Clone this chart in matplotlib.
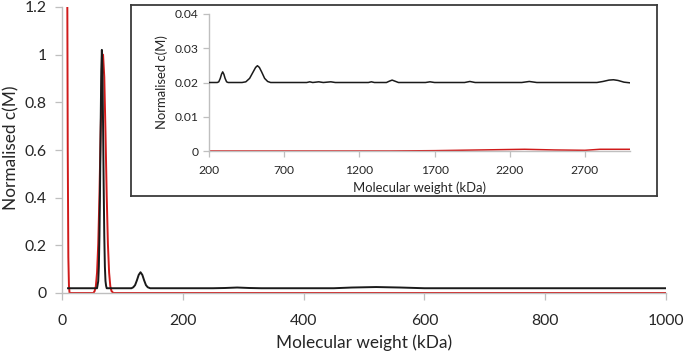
import matplotlib
matplotlib.use("Agg")
import matplotlib.pyplot as plt
from matplotlib.ticker import FuncFormatter

plt.rcParams['font.family'] = ['Lato', 'DejaVu Sans']

# ---------------- data ----------------
# main panel, black trace
main_black_x = [10, 58, 60, 61, 62, 63, 64, 65, 66, 67, 68, 69, 70, 71, 72, 73, 74,
                115, 118, 121, 124, 127, 130, 133, 136, 139, 142, 146,
                250, 270, 290, 310, 330, 450, 480, 520, 560, 600, 1000]
main_black_y = [0.02, 0.02, 0.05, 0.11, 0.24, 0.45, 0.70, 0.93, 1.02, 0.93, 0.70, 0.45, 0.24, 0.11, 0.05, 0.03, 0.02,
                0.02, 0.024, 0.033, 0.053, 0.076, 0.087, 0.076, 0.053, 0.033, 0.024, 0.02,
                0.02, 0.021, 0.023, 0.021, 0.02, 0.02, 0.023, 0.025, 0.023, 0.02, 0.02]

# main panel, red trace
main_red_x = [7.5, 8.5, 9.5, 10.5, 11.5, 12.5, 52, 54, 56, 58, 60, 62, 64, 66, 68,
              70, 72, 74, 76, 78, 80, 82, 85, 1000]
main_red_y = [3.0, 1.5, 0.6, 0.15, 0.03, 0.0, 0.0, 0.008, 0.028, 0.085, 0.206, 0.411, 0.674, 0.906, 1.0,
              0.906, 0.674, 0.411, 0.206, 0.085, 0.028, 0.008, 0.0, 0.0]

# inset, black trace
inset_black_x = [200, 255, 265, 275, 283, 291, 299, 307, 317, 327,
                 420, 445, 470, 495, 510, 522, 535, 550, 570, 590, 610,
                 850, 870, 890, 930, 960, 1010, 1040, 1260, 1280, 1300,
                 1380, 1400, 1418, 1436, 1460, 1640, 1670, 1700, 1900, 1935, 1970,
                 2280, 2330, 2380, 2780, 2820, 2860, 2890, 2920, 2960, 3000]
inset_black_y = [0.02, 0.02, 0.0202, 0.0212, 0.0224, 0.0231, 0.0224, 0.0212, 0.0202, 0.02,
                 0.02, 0.0202, 0.0212, 0.0232, 0.0244, 0.0249, 0.0244, 0.0231, 0.0212, 0.0203, 0.02,
                 0.02, 0.0202, 0.02, 0.0202, 0.02, 0.0202, 0.02, 0.02, 0.0202, 0.02,
                 0.02, 0.0204, 0.0207, 0.0204, 0.02, 0.02, 0.0202, 0.02, 0.02, 0.0203, 0.02,
                 0.02, 0.0203, 0.02, 0.02, 0.0203, 0.0207, 0.0208, 0.0206, 0.0201, 0.0199]

# inset, red trace
inset_red_x = [200, 1400, 1700, 2000, 2300, 2500, 2700, 2800, 3000]
inset_red_y = [0.0, 0.0, 0.0001, 0.0003, 0.0005, 0.0003, 0.0002, 0.0005, 0.0005]

main_xticks = [0, 200, 400, 600, 800, 1000]
main_yticks = [0, 0.2, 0.4, 0.6, 0.8, 1.0, 1.2]
inset_xticks = [200, 700, 1200, 1700, 2200, 2700]
inset_yticks = [0, 0.01, 0.02, 0.03, 0.04]

xlabel = "Molecular weight (kDa)"
ylabel = "Normalised c(M)"

# ---------------- styling ----------------
BLACK = '#1a1a1a'
RED = '#d01a1a'
SPINE = '#bfbfbf'
TXT = '#262626'
fmt = FuncFormatter(lambda v, p: '{:g}'.format(round(v, 4)))

W, H = 685, 353
fig = plt.figure(figsize=(W / 100, H / 100), dpi=100)


def px(l, t, r, b):
    return [l / W, 1 - b / H, (r - l) / W, (b - t) / H]


def style(ax, fs, ticklen):
    for s in ['top', 'right']:
        ax.spines[s].set_visible(False)
    for s in ['left', 'bottom']:
        ax.spines[s].set_color(SPINE)
        ax.spines[s].set_linewidth(1.0)
    ax.tick_params(axis='both', colors=SPINE, length=ticklen, width=0.9,
                   labelcolor=TXT, labelsize=fs)
    ax.xaxis.set_major_formatter(fmt)
    ax.yaxis.set_major_formatter(fmt)


# main axes
ax = fig.add_axes(px(62, 7, 666, 293))
ax.plot(main_black_x, main_black_y, color=BLACK, lw=1.4, zorder=3)
ax.plot(main_red_x, main_red_y, color=RED, lw=1.4, zorder=2)
ax.set_xlim(0, 1000)
ax.set_ylim(0, 1.2)
ax.set_xticks(main_xticks)
ax.set_yticks(main_yticks)
style(ax, 11.3, 5)
ax.tick_params(axis='x', pad=10)
ax.tick_params(axis='y', pad=6)
ax.set_xlabel(xlabel, fontsize=12.4, color=TXT)
ax.set_ylabel(ylabel, fontsize=12.4, color=TXT)
ax.xaxis.set_label_coords(364.5 / W, 1 - 334 / H, transform=fig.transFigure)
ax.yaxis.set_label_coords(19 / W, 1 - 148 / H, transform=fig.transFigure)

# inset frame
frame = fig.add_axes(px(131, 5, 657, 196))
frame.set_xticks([])
frame.set_yticks([])
frame.set_facecolor('white')
for s in frame.spines.values():
    s.set_color('#3a3a3a')
    s.set_linewidth(1.3)

# inset axes
ins = fig.add_axes(px(209, 14, 630, 151))
ins.patch.set_alpha(0)
ins.plot(inset_black_x, inset_black_y, color=BLACK, lw=1.1, zorder=3)
ins.plot(inset_red_x, inset_red_y, color=RED, lw=1.1, zorder=2)
ins.set_xlim(200, 3000)
ins.set_ylim(0, 0.04)
ins.set_xticks(inset_xticks)
ins.set_yticks(inset_yticks)
style(ins, 8.7, 4)
ins.tick_params(axis='x', pad=6)
ins.set_xlabel(xlabel, fontsize=9.4, color=TXT, labelpad=4)
ins.set_ylabel(ylabel, fontsize=9.4, color=TXT, labelpad=5)

fig.savefig('out.png', dpi=100)
